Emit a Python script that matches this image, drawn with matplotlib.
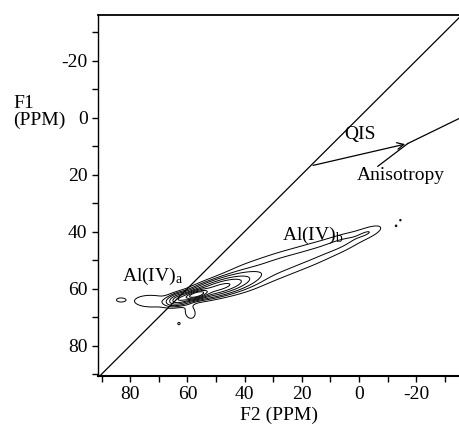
import numpy as np
import matplotlib
matplotlib.use('Agg')
import matplotlib.pyplot as plt
from matplotlib.ticker import MultipleLocator

plt.rcParams['font.family'] = ['Liberation Serif', 'DejaVu Serif']
plt.rcParams['mathtext.fontset'] = 'stix'
plt.rcParams['axes.unicode_minus'] = False

# peak components (ppm)
f2_center = [57, 50, 63, 40, 28, 16, 5, -4, 73, 83.5, 59, 63, -13, -14.5, 47]
f1_center = [62.2, 60.0, 63.8, 56.2, 51.8, 47.8, 43.6, 40, 64.4, 64, 68.5, 72.3, 38, 36, 58.5]
sig_along = [2.5, 7, 2.5, 7, 7, 7, 6, 4, 5.5, 1.5, 2.2, 0.6, 0.5, 0.5, 6]
sig_across = [0.8, 1.6, 1.2, 3.6, 3.3, 3.0, 2.2, 1.4, 2.0, 0.7, 1.8, 0.6, 0.5, 0.5, 1.8]
ridge_slope = [0.27, 0.27, 0.27, 0.35, 0.35, 0.36, 0.38, 0.4, 0.0, 0.0, -3, 0, 0, 0, 0.3]
amplitude = [0.9, 0.4, 0.35, 0.07, 0.07, 0.065, 0.065, 0.055, 0.066, 0.05, 0.06, 0.05, 0.045, 0.045, 0.1]
levels = [0.04, 0.075, 0.12, 0.2, 0.3, 0.45, 0.65, 0.85]

# annotation geometry (ppm)
qis_start = (17, 17)
qis_end = (-17.1, 9.1)
aniso_end = (-35, 0.35)
aniso_label_ptr = (-6.6, 17.1)

xlim = (91.3, -35)
ylim = (90.7, -36)

f2 = np.arange(-36, 92, 0.2)
f1 = np.arange(-37, 92, 0.2)
X, Y = np.meshgrid(f2, f1)
Z = np.zeros_like(X)
for x0, y0, sa, sc, s, a in zip(f2_center, f1_center, sig_along, sig_across, ridge_slope, amplitude):
    n = np.hypot(1, s)
    ux, uy = 1 / n, s / n
    dx, dy = X - x0, Y - y0
    al = dx * ux + dy * uy
    ac = -dx * uy + dy * ux
    Z += a * np.exp(-al**2 / (2 * sa**2) - ac**2 / (2 * sc**2))

fig = plt.figure(figsize=(4.59, 4.33), dpi=100)
ax = fig.add_axes([98 / 459, 1 - 376 / 433, 1 - 98 / 459, (376 - 15) / 433])

ax.contour(X, Y, Z, levels=levels, colors='k', linewidths=0.7)

ax.plot([xlim[0], xlim[1]], [xlim[0], xlim[1]], color='k', lw=0.9)
ax.annotate('', xy=qis_end, xytext=qis_start,
            arrowprops=dict(arrowstyle='->', color='k', lw=0.9, mutation_scale=12))
ax.plot([qis_end[0], aniso_end[0]], [qis_end[1], aniso_end[1]], color='k', lw=0.9)
ax.plot([aniso_label_ptr[0], qis_end[0]], [aniso_label_ptr[1], qis_end[1]], color='k', lw=0.9)

ax.text(5.0, 7.5, 'QIS', fontsize=14, ha='left', va='baseline')
ax.text(0.9, 22, 'Anisotropy', fontsize=14, ha='left', va='baseline')
ax.text(83, 57.2, r'Al(IV)$_\mathregular{a}$', fontsize=14, ha='left', va='baseline')
ax.text(27.1, 42.8, r'Al(IV)$_\mathregular{b}$', fontsize=14, ha='left', va='baseline')

ax.set_xlim(*xlim)
ax.set_ylim(*ylim)
ax.xaxis.set_major_locator(MultipleLocator(20))
ax.xaxis.set_minor_locator(MultipleLocator(10))
ax.yaxis.set_major_locator(MultipleLocator(20))
ax.yaxis.set_minor_locator(MultipleLocator(10))
ax.tick_params(which='both', direction='out', length=4, width=1, labelsize=14, top=False, right=False)

ax.spines['right'].set_visible(False)
ax.spines['top'].set_linewidth(1.3)
ax.spines['bottom'].set_linewidth(1.5)
ax.spines['left'].set_linewidth(1.0)

ax.set_xlabel('F2 (PPM)', fontsize=14, labelpad=2)
fig.text(13 / 459, 1 - 112 / 433, 'F1\n(PPM)', fontsize=14, ha='left', va='center', linespacing=1.0)

fig.savefig('out.png', dpi=100)
